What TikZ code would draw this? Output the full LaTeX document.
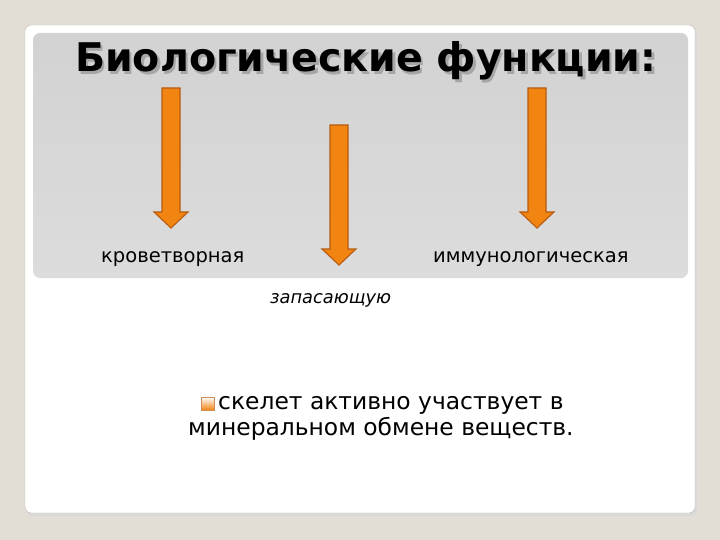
\documentclass[tikz,border=0pt]{standalone}
\usepackage{fontspec}
\setmainfont{DejaVu Sans}
\definecolor{slidebg}{HTML}{E3DED5}
\definecolor{cardedge}{HTML}{B8B4AC}
\definecolor{headtop}{HTML}{D2D2D2}
\definecolor{headbot}{HTML}{DCDCDC}
\definecolor{arrowfill}{HTML}{F28512}
\definecolor{arrowedge}{HTML}{B85A10}
\begin{document}
\begin{tikzpicture}[x=1pt, y=-1pt,
    funarrow/.style={fill=arrowfill, draw=arrowedge, line width=1.1pt, line join=miter},
    txt/.style={inner sep=0pt, anchor=base west, font=\fontsize{19.5}{24}\selectfont}]
  \useasboundingbox (0,0) rectangle (720,540);
  % slide background and card
  \fill[slidebg] (0,0) rectangle (720,540);
  \fill[black!15, rounded corners=6pt] (27,27) rectangle (697,516);
  \draw[cardedge, fill=white, rounded corners=6pt] (25,25) rectangle (695,513);

  % grey header
  \shade[top color=headtop, bottom color=headbot, rounded corners=7pt] (33,33) rectangle (688,278);
  \draw[white, line width=1pt] (40,279) -- (682,279);

  % title with shadow
  \node[txt, font=\fontsize{39.5}{44}\selectfont\bfseries, text=black!35] at (77.5,74.5) {Биологические функции:};
  \node[txt, font=\fontsize{39.5}{44}\selectfont\bfseries] (title) at (75,72) {Биологические функции:};

  % the three arrows
  \foreach \name/\xc/\ytop/\ytip in {left/171/88/228, mid/339/125/265, right/537/88/228}{
    \draw[funarrow] (\xc-9,\ytop) -- (\xc+9,\ytop) -- (\xc+9,\ytip-16) -- (\xc+17,\ytip-16)
      -- (\xc,\ytip) -- (\xc-17,\ytip-16) -- (\xc-9,\ytip-16) -- cycle;
  }

  % labels of the arrows
  \node[txt] (blood) at (101,262) {кроветворная};
  \node[txt] (immune) at (433,262) {иммунологическая};
  \node[txt, font=\fontsize{17.8}{22}\selectfont\itshape] (store) at (270,303) {запасающую};

  % bullet and text
  \shade[top color=white, bottom color=arrowfill, draw=arrowedge!70, line width=0.6pt] (201,397) rectangle (214,410);
  \node[txt, font=\fontsize{23.4}{28}\selectfont] (skel) at (218,409) {скелет активно участвует в};
  \node[txt, font=\fontsize{23.4}{28}\selectfont] (metab) at (188,435) {минеральном обмене веществ.};
\end{tikzpicture}
\end{document}
